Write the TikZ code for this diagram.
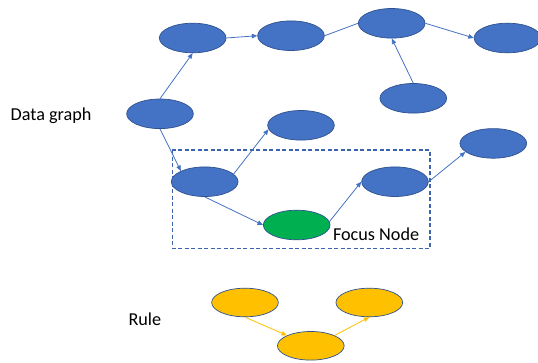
\documentclass[tikz,border=0pt]{standalone}
\usepackage{fontspec}
\setmainfont{Carlito}
\usetikzlibrary{arrows.meta,shapes.geometric}
\definecolor{nodeblue}{HTML}{4472C4}
\definecolor{edgeline}{HTML}{2F528F}
\definecolor{focusgreen}{HTML}{00B050}
\definecolor{rulegold}{HTML}{FFC000}
\tikzset{
  vertex/.style={ellipse, draw=edgeline, line width=0.7pt, fill=nodeblue,
    minimum width=66.7pt, minimum height=29.6pt, inner sep=0pt},
  focusvertex/.style={vertex, fill=focusgreen},
  rulevertex/.style={vertex, fill=rulegold, minimum height=28.6pt},
  link/.style={draw=nodeblue, line width=0.8pt},
  arc/.style={link, -{Triangle[length=5.5pt,width=4.5pt]}},
  rulearc/.style={arc, draw=rulegold},
  focusframe/.style={draw=edgeline!45!nodeblue, line width=1.1pt, dash pattern=on 4pt off 2.5pt},
  caption/.style={font=\fontsize{18.2pt}{20pt}\selectfont, inner sep=0pt, anchor=base west}
}
\begin{document}
\begin{tikzpicture}[x=1pt,y=-1pt]
\useasboundingbox (0,0) rectangle (538,362);

% data graph
\node[vertex] (A) at (192.7,38) {};
\node[vertex] (B) at (291,35.7) {};
\node[vertex] (C) at (391.7,23.3) {};
\node[vertex] (D) at (507.5,38) {};
\node[vertex] (E) at (413.3,98.3) {};
\node[vertex] (F) at (160,113.8) {};
\node[vertex] (G) at (301,125.3) {};
\node[vertex] (H) at (493.3,143.4) {};
\node[vertex] (I) at (204.7,181.7) {};
\node[focusvertex] (Fo) at (296.7,225) {};
\node[vertex] (J) at (395,181.7) {};

% neighbourhood of the focus node
\draw[focusframe] (172.3,150) rectangle (430,248.3);

\draw[arc] (F.north) -- (A.south);
\draw[arc] (A.east) -- (B.west);
\draw[link] (B.east) -- (C.west);
\draw[arc] (C.east) -- (D.west);
\draw[arc] (E.north) -- (C.south);
\draw[arc] (F.south) -- (I.north west);
\draw[arc] (I.15) -- (G.187);
\draw[arc] (I.south) -- (Fo.west);
\draw[arc] (Fo.6) -- (J.west);
\draw[arc] (J.east) -- (H.197);

% rule pattern
\node[rulevertex] (R1) at (245,302.5) {};
\node[rulevertex] (R2) at (369.3,302.5) {};
\node[rulevertex] (R3) at (310.8,345.8) {};
\draw[rulearc] (R1.south) -- (R3.north west);
\draw[rulearc] (R3.north east) -- (R2.south);

% labels
\node[caption] (datalabel) at (10.5,120) {Data graph};
\node[caption] (focuslabel) at (332.8,240.5) {Focus Node};
\node[caption] (rulelabel) at (128.3,325) {Rule};
\end{tikzpicture}
\end{document}
